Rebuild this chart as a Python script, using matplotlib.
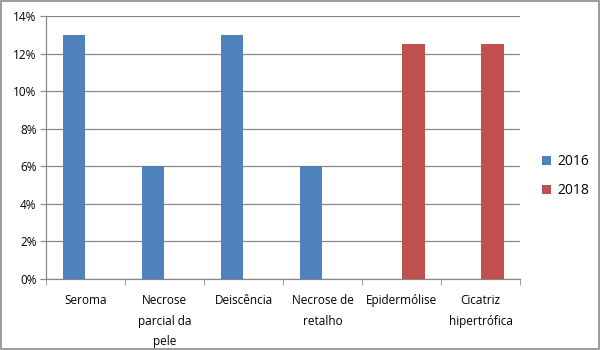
import numpy as np
import matplotlib.pyplot as plt
from matplotlib.ticker import FuncFormatter, FixedLocator

# complication rates per category and year
categories = ['Seroma', 'Necrose\nparcial da\npele', 'Deiscência',
              'Necrose de\nretalho', 'Epidermólise', 'Cicatriz\nhipertrófica']
vals_2016 = [13, 6, 13, 6, 0, 0]
vals_2018 = [0, 0, 0, 0, 12.5, 12.5]

blue = '#4F81BD'
red = '#C0504D'
grid_col = '#888888'

plt.rcParams['font.family'] = ['Open Sans', 'DejaVu Sans']

fig = plt.figure(figsize=(6, 3.5), dpi=100)
ax = fig.add_axes([0.077, 0.203, 0.790, 0.751])

x = np.arange(len(categories))
w = 0.285
ax.bar(x - 0.15, vals_2016, w, color=blue, label='2016', zorder=3)
ax.bar(x + 0.15, vals_2018, w, color=red, label='2018', zorder=3)

ax.set_xlim(-0.5, len(categories) - 0.5)
ax.set_ylim(0, 14)
ax.set_yticks(np.arange(0, 15, 2))
ax.yaxis.set_major_formatter(FuncFormatter(lambda v, p: f'{v:.0f}%'))
ax.grid(axis='y', color=grid_col, lw=0.9, zorder=0)

ax.set_xticks(x)
ax.set_xticklabels(categories, fontsize=8.5, linespacing=1.75)
ax.xaxis.set_minor_locator(FixedLocator(np.arange(-0.5, len(categories), 1)))
ax.tick_params(axis='x', which='major', length=0, pad=11)
ax.tick_params(axis='x', which='minor', length=4, color=grid_col)
ax.tick_params(axis='y', length=4, color=grid_col, labelsize=8.5, pad=3)

for s in ['top', 'right']:
    ax.spines[s].set_visible(False)
for s in ['left', 'bottom']:
    ax.spines[s].set_color(grid_col)
    ax.spines[s].set_linewidth(0.9)

ax.legend(loc='center left', bbox_to_anchor=(1.02, 0.39), frameon=False,
          fontsize=10, handlelength=0.6, handleheight=0.6, labelspacing=1.0,
          handletextpad=0.5)

# outer frame
fig.patches.append(plt.Rectangle((0.002, 0.003), 0.996, 0.994,
                                 transform=fig.transFigure, fill=False,
                                 edgecolor='#8c8c8c', lw=1.2))

fig.savefig('out.png', dpi=100)
